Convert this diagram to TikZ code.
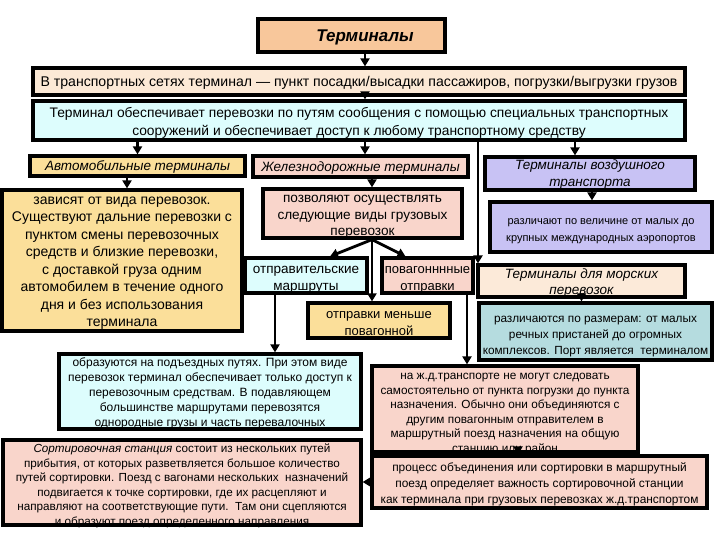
\documentclass[tikz,border=0pt]{standalone}
\usepackage{fontspec}
\setmainfont{Liberation Sans}
\usetikzlibrary{arrows.meta,calc}
\definecolor{cTitle}{HTML}{F8C79B}
\definecolor{cDef}{HTML}{FCE9D6}
\definecolor{cCyan}{HTML}{DDFDFD}
\definecolor{cYel}{HTML}{FBDF9A}
\definecolor{cPink}{HTML}{F9D5CB}
\definecolor{cLav}{HTML}{C8C2F4}
\definecolor{cSea}{HTML}{FCEAD9}
\definecolor{cTeal}{HTML}{B5DCDF}
% box text: width, height, first baseline, font, text
\newcommand{\bt}[5]{\begin{minipage}[c][#2pt][t]{#1pt}#4\centering\rule{0pt}{#3pt}#5\end{minipage}}
\newcommand{\fs}[2]{\fontsize{#1}{#2}\selectfont}
\tikzset{
  box/.style={draw=black, line width=3.2pt, inner sep=0pt, anchor=center},
  arr/.style={line width=2.8pt, -{Triangle[length=8pt,width=9pt]}},
}
\begin{document}
\begin{tikzpicture}[x=1pt,y=-1pt]
\useasboundingbox[fill=white] (0,0) rectangle (720,540);
% top
\node[box, fill=cTitle] (title) at (351.5,35.5) {\bt{187}{33}{23}{\fs{17}{20}\bfseries\itshape}{\hspace*{27pt}Терминалы}};
\node[box, fill=cDef] (def) at (359,81.5) {\bt{652}{27}{19}{\fs{14.1}{18}}{В транспортных сетях терминал — пункт посадки/высадки пассажиров, погрузки/выгрузки грузов}};
\node[box, fill=cCyan] (svc) at (359,120.5) {\bt{652}{39}{16.5}{\fs{13.8}{18}}{Терминал обеспечивает перевозки по путям сообщения с помощью специальных транспортных\\ сооружений и обеспечивает доступ к любому транспортному средству}};
% categories
\node[box, fill=cYel] (auto) at (137.5,166) {\bt{215}{20}{15}{\fs{13.5}{17}\itshape}{Автомобильные терминалы}};
\node[box, fill=cPink] (rail) at (360.5,166.5) {\bt{215}{21}{15.5}{\fs{13.5}{17}\itshape}{Железнодорожные терминалы}};
\node[box, fill=cLav] (air) at (590,173.5) {\bt{210}{33}{13}{\fs{13.5}{17}\itshape}{Терминалы воздушного\\ транспорта}};
% descriptions
\node[box, fill=cYel] (autod) at (122,260.5) {\bt{240}{141}{14}{\fs{14}{17.5}}{зависят от вида перевозок.\\ Существуют дальние перевозки с\\ пунктом смены перевозочных\\ средств и близкие перевозки,\\ с доставкой груза одним\\ автомобилем в течение одного\\ дня и без использования\\ терминала}};
\node[box, fill=cPink] (raild) at (362.5,213.5) {\bt{199}{49}{13.5}{\fs{13.6}{16.5}}{позволяют осуществлять\\ следующие виды грузовых\\ перевозок}};
\node[box, fill=cLav] (aird) at (601,227) {\bt{222}{50}{22}{\fs{11}{17}}{различают по величине от малых до\\ крупных международных аэропортов}};
\node[box, fill=cCyan] (otpr) at (306,275.5) {\bt{122}{35}{15}{\fs{13.5}{17}}{отправительские\\ маршруты}};
\node[box, fill=cPink] (povag) at (427.5,275.5) {\bt{91}{35}{15}{\fs{13}{17}}{повагонннные\\ отправки}};
\node[box, fill=cSea] (seac) at (581.5,281) {\bt{207}{32}{13}{\fs{13.5}{16}\itshape}{Терминалы для морских\\ перевозок}};
\node[box, fill=cYel] (menshe) at (379,320.5) {\bt{142}{35}{15}{\fs{13}{17}}{отправки меньше\\ повагонной}};
\node[box, fill=cTeal] (sead) at (595.5,331.5) {\bt{233}{57}{19}{\fs{11.8}{16}}{различаются по размерам: от малых\\ речных пристаней до огромных\\ комплексов. Порт является\ \ терминалом}};
\node[box, fill=cCyan] (obr) at (210,391.5) {\bt{302}{75}{12}{\fs{12}{15}}{образуются на подъездных путях. При этом виде\\ перевозок терминал обеспечивает только доступ к\\ перевозочным средствам. В подавляющем\\ большинстве маршрутами перевозятся\\ однородные грузы и часть перевалочных}};
\node[box, fill=cPink] (nazhd) at (505,409) {\bt{266}{86}{13.5}{\fs{11.8}{14.5}}{на ж.д.транспорте не могут следовать\\ самостоятельно от пункта погрузки до пункта\\ назначения. Обычно они объединяются с\\ другим повагонным отправителем в\\ маршрутный поезд назначения на общую\\ станцию или район}};
\node[box, fill=cPink] (sort) at (182,482.5) {\bt{358}{85}{12.5}{\fs{11.7}{14.5}}{\textit{Сортировочная станция} состоит из нескольких путей\\ прибытия, от которых разветвляется большое количество\\ путей сортировки. Поезд с вагонами нескольких\ \ назначений\\ подвигается к точке сортировки, где их расцепляют и\\ направляют на соответствующие пути.\ \ Там они сцепляются\\ и образуют поезд определенного направления}};
\node[box, fill=cPink] (process) at (539.5,482) {\bt{335}{52}{15}{\fs{11.9}{16}}{процесс объединения или сортировки в маршрутный\\ поезд определяет важность сортировочной станции\\ как терминала при грузовых перевозках ж.д.транспортом}};
% connectors
\coordinate (cx) at (365,0);
\coordinate (rx) at (372,0);
\coordinate (ax) at (575,0);
\coordinate (adx) at (592,0);
\coordinate (aux) at (127,0);
\coordinate (ox) at (275,0);
\coordinate (px) at (467,0);
\coordinate (nx) at (518,0);
\coordinate (sx) at (478,0);
\draw[arr] (cx |- title.south) -- (cx |- def.north);
\draw[arr] (cx |- def.south) -- (cx |- svc.north);
\draw[arr] (auto.north |- svc.south) -- (auto.north);
\draw[arr] (cx |- svc.south) -- (cx |- rail.north);
\draw[arr] (ax |- svc.south) -- (ax |- air.north);
\draw[arr] (sx |- svc.south) -- (sx |- seac.north);
\draw[arr] (aux |- auto.south) -- (aux |- autod.north);
\draw[arr] (rx |- rail.south) -- (rx |- raild.north);
\draw[arr] (adx |- air.south) -- (adx |- aird.north);
\draw[arr] (seac.south) -- (seac.south |- sead.north);
\draw[arr] (rx |- raild.south) -- ([xshift=24pt]otpr.north);
\draw[arr] (rx |- raild.south) -- ([xshift=-22pt]povag.north);
\draw[arr] (rx |- raild.south) -- (rx |- menshe.north);
\draw[arr] (ox |- otpr.south) -- (ox |- obr.north);
\draw[arr] (px |- povag.south) -- (px |- nazhd.north);
\draw[arr] ([yshift=6pt]nx |- nazhd.south) -- (nx |- process.north);
\draw[arr] (process.west) -- (process.west -| sort.east);
\end{tikzpicture}
\end{document}
